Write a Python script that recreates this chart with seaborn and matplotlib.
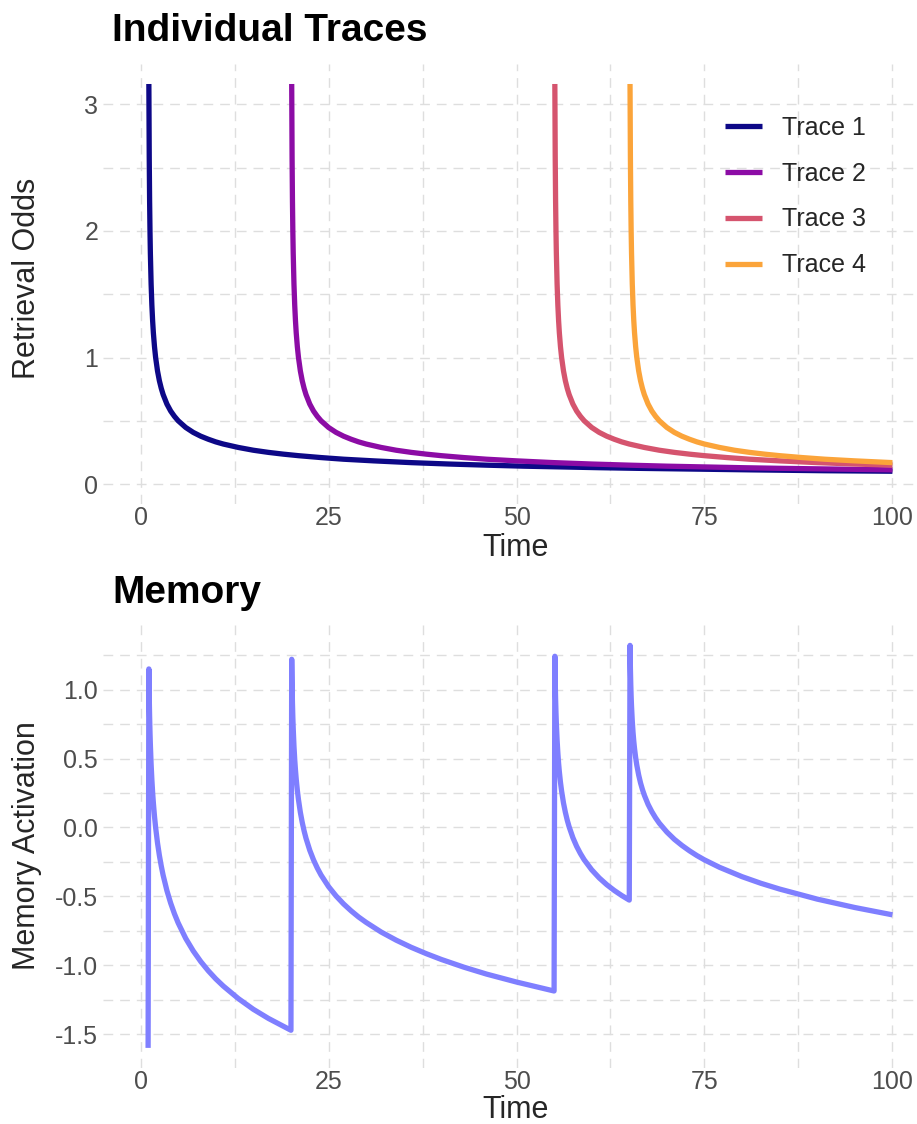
import numpy as np
import pandas as pd
import matplotlib
matplotlib.use("Agg")
import matplotlib.pyplot as plt
from matplotlib.ticker import MultipleLocator, FixedLocator
import seaborn as sns

# ---------------- data ----------------
trace_names = ["Trace 1", "Trace 2", "Trace 3", "Trace 4"]

trace1_time = [1.1, 1.15, 1.2, 1.25, 1.3, 1.4, 1.5, 1.6, 1.7, 1.85, 2, 2.25, 2.5, 2.75,
               3, 3.5, 4, 4.5, 5, 6, 7, 8, 9, 10, 11, 13, 15, 17, 19, 21, 24, 27, 31,
               36, 41, 46, 51, 56, 61, 66, 71, 81, 91, 100]
trace1_odds = [3.162, 2.582, 2.236, 2.000, 1.826, 1.581, 1.414, 1.291, 1.195, 1.085,
               1.000, 0.894, 0.816, 0.756, 0.707, 0.632, 0.577, 0.535, 0.500, 0.447,
               0.408, 0.378, 0.354, 0.333, 0.316, 0.289, 0.267, 0.250, 0.236, 0.224,
               0.209, 0.196, 0.183, 0.169, 0.158, 0.149, 0.141, 0.135, 0.129, 0.124,
               0.120, 0.112, 0.105, 0.101]

trace2_time = [20.1, 20.15, 20.2, 20.25, 20.3, 20.4, 20.5, 20.6, 20.7, 20.85, 21, 21.25,
               21.5, 21.75, 22, 22.5, 23, 23.5, 24, 25, 26, 27, 28, 29, 30, 32, 34, 36,
               38, 40, 43, 46, 50, 55, 60, 65, 70, 75, 80, 85, 90, 100]
trace2_odds = [3.162, 2.582, 2.236, 2.000, 1.826, 1.581, 1.414, 1.291, 1.195, 1.085,
               1.000, 0.894, 0.816, 0.756, 0.707, 0.632, 0.577, 0.535, 0.500, 0.447,
               0.408, 0.378, 0.354, 0.333, 0.316, 0.289, 0.267, 0.250, 0.236, 0.224,
               0.209, 0.196, 0.183, 0.169, 0.158, 0.149, 0.141, 0.135, 0.129, 0.124,
               0.120, 0.112]

trace3_time = [55.1, 55.15, 55.2, 55.25, 55.3, 55.4, 55.5, 55.6, 55.7, 55.85, 56, 56.25,
               56.5, 56.75, 57, 57.5, 58, 58.5, 59, 60, 61, 62, 63, 64, 65, 67, 69, 71,
               73, 75, 78, 81, 85, 90, 95, 100]
trace3_odds = [3.162, 2.582, 2.236, 2.000, 1.826, 1.581, 1.414, 1.291, 1.195, 1.085,
               1.000, 0.894, 0.816, 0.756, 0.707, 0.632, 0.577, 0.535, 0.500, 0.447,
               0.408, 0.378, 0.354, 0.333, 0.316, 0.289, 0.267, 0.250, 0.236, 0.224,
               0.209, 0.196, 0.183, 0.169, 0.158, 0.149]

trace4_time = [65.1, 65.15, 65.2, 65.25, 65.3, 65.4, 65.5, 65.6, 65.7, 65.85, 66, 66.25,
               66.5, 66.75, 67, 67.5, 68, 68.5, 69, 70, 71, 72, 73, 74, 75, 77, 79, 81,
               83, 85, 88, 91, 95, 100]
trace4_odds = [3.162, 2.582, 2.236, 2.000, 1.826, 1.581, 1.414, 1.291, 1.195, 1.085,
               1.000, 0.894, 0.816, 0.756, 0.707, 0.632, 0.577, 0.535, 0.500, 0.447,
               0.408, 0.378, 0.354, 0.333, 0.316, 0.289, 0.267, 0.250, 0.236, 0.224,
               0.209, 0.196, 0.183, 0.169]

memory_time = [1, 1.1, 1.15, 1.2, 1.25, 1.3, 1.4, 1.5, 1.6, 1.7, 1.85, 2, 2.25, 2.5, 2.75,
               3, 3.5, 4, 4.5, 5, 6, 7, 8, 9, 10, 11, 13, 15, 17, 20,
               20.1, 20.15, 20.2, 20.25, 20.3, 20.4, 20.5, 20.6, 20.7, 20.85, 21, 21.25,
               21.5, 21.75, 22, 22.5, 23, 23.5, 24, 25, 26, 27, 28, 29, 30, 32, 34, 36,
               38, 40, 43, 46, 50, 55,
               55.1, 55.15, 55.2, 55.25, 55.3, 55.4, 55.5, 55.6, 55.7, 55.85, 56, 56.25,
               56.5, 56.75, 57, 57.5, 58, 58.5, 59, 60, 61, 62, 63, 64, 65,
               65.1, 65.15, 65.2, 65.25, 65.3, 65.4, 65.5, 65.6, 65.7, 65.85, 66, 66.25,
               66.5, 66.75, 67, 67.5, 68, 68.5, 69, 70, 71, 72, 73, 74, 75, 77, 80, 82.5,
               85, 90, 95, 100]
memory_activation = [-1.60, 1.151, 0.949, 0.805, 0.693, 0.602, 0.458, 0.347, 0.255, 0.178,
                     0.081, 0.000, -0.112, -0.203, -0.280, -0.347, -0.458, -0.549, -0.626,
                     -0.693, -0.805, -0.896, -0.973, -1.040, -1.099, -1.151, -1.242,
                     -1.320, -1.386, -1.472,
                     1.221, 1.033, 0.902, 0.801, 0.720, 0.592, 0.495, 0.417, 0.351, 0.269,
                     0.202, 0.110, 0.037, -0.025, -0.078, -0.165, -0.235, -0.294, -0.345,
                     -0.429, -0.497, -0.555, -0.605, -0.650, -0.689, -0.759, -0.818,
                     -0.870, -0.916, -0.958, -1.014, -1.064, -1.122, -1.187,
                     1.243, 1.060, 0.932, 0.835, 0.756, 0.634, 0.541, 0.466, 0.404, 0.327,
                     0.264, 0.178, 0.110, 0.053, 0.005, -0.074, -0.137, -0.189, -0.234,
                     -0.307, -0.366, -0.415, -0.457, -0.494, -0.527,
                     1.322, 1.154, 1.038, 0.950, 0.880, 0.772, 0.691, 0.626, 0.573, 0.507,
                     0.453, 0.381, 0.323, 0.276, 0.235, 0.168, 0.115, 0.070, 0.031,
                     -0.033, -0.086, -0.130, -0.169, -0.204, -0.235, -0.289, -0.357,
                     -0.405, -0.447, -0.520, -0.581, -0.634]

x_ticks = [0, 25, 50, 75, 100]
top_y_ticks = [0, 1, 2, 3]
bottom_y_ticks = [-1.5, -1.0, -0.5, 0.0, 0.5, 1.0]
bottom_y_labels = ["-1.5", "-1.0", "-0.5", "0.0", "0.5", "1.0"]

trace_colors = ["#0D0887", "#8C0CA5", "#D5546E", "#FBA43A"]
memory_color = "#7F7FFF"

# ---------------- build table ----------------
frames = []
for name, t, v in zip(trace_names,
                      [trace1_time, trace2_time, trace3_time, trace4_time],
                      [trace1_odds, trace2_odds, trace3_odds, trace4_odds]):
    frames.append(pd.DataFrame({"Time": t, "Odds": v, "Trace": name}))
traces_df = pd.concat(frames, ignore_index=True)
memory_df = pd.DataFrame({"Time": memory_time, "Activation": memory_activation})

# ---------------- style ----------------
sns.set_theme(style="white")
plt.rcParams["font.family"] = ["Liberation Sans", "DejaVu Sans"]
plt.rcParams["lines.solid_capstyle"] = "butt"
plt.rcParams["lines.solid_joinstyle"] = "round"

W, H = 917, 1124
fig = plt.figure(figsize=(W / 100, H / 100), dpi=100)


def px_axes(left, top, right, bottom):
    return fig.add_axes([left / W, 1 - bottom / H, (right - left) / W, (bottom - top) / H])


ax1 = px_axes(103, 64, 930, 504)
ax2 = px_axes(103, 625, 930, 1068)

LW = 3.8
TICK_COLOR = "#4D4D4D"
GRID_COLOR = "#DEDEDE"
DASH = (0, (7, 5))

sns.lineplot(data=traces_df, x="Time", y="Odds", hue="Trace", hue_order=trace_names,
             palette=trace_colors, estimator=None, sort=False, linewidth=LW, ax=ax1)
sns.lineplot(data=memory_df, x="Time", y="Activation", color=memory_color,
             estimator=None, sort=False, linewidth=LW, ax=ax2)

for ax in (ax1, ax2):
    ax.set_xlim(-5, 105)
    ax.xaxis.set_major_locator(FixedLocator(x_ticks))
    ax.xaxis.set_minor_locator(MultipleLocator(12.5))
    for s in ax.spines.values():
        s.set_visible(False)
    ax.grid(True, which="major", linestyle=DASH, color=GRID_COLOR, linewidth=1.0)
    ax.grid(True, which="minor", linestyle=DASH, color=GRID_COLOR, linewidth=1.0)
    ax.set_axisbelow(True)
    ax.tick_params(which="both", length=0, labelsize=18, labelcolor=TICK_COLOR)
    ax.tick_params(axis="x", pad=1.5)
    ax.tick_params(axis="y", pad=3.5)
    ax.set_xlabel("")
    ax.set_ylabel("")

ax1.set_ylim(-0.158, 3.32)
ax1.yaxis.set_major_locator(FixedLocator(top_y_ticks))
ax1.yaxis.set_minor_locator(MultipleLocator(0.5))

ax2.set_ylim(-1.746, 1.47)
ax2.set_yticks(bottom_y_ticks)
ax2.set_yticklabels(bottom_y_labels)
ax2.yaxis.set_minor_locator(MultipleLocator(0.25))

# legend
handles, labels = ax1.get_legend_handles_labels()
ax1.legend(handles=handles, labels=labels, loc="upper left",
           bbox_to_anchor=(725 / W, 1 - 116 / H), bbox_transform=fig.transFigure,
           frameon=False, fontsize=18, handlelength=1.48, handletextpad=0.8,
           labelspacing=0.87, borderpad=0, borderaxespad=0)
for line in ax1.get_legend().get_lines():
    line.set_linewidth(LW)

# titles and axis titles
fig.text(112 / W, 1 - 41 / H, "Individual Traces", fontsize=28, fontweight="bold",
         ha="left", va="baseline", color="black")
fig.text(112 / W, 1 - 603 / H, "Memory", fontsize=28, fontweight="bold",
         ha="left", va="baseline", color="black")
fig.text(516 / W, 1 - 548 / H, "Time", fontsize=22, ha="center", va="center")
fig.text(516 / W, 1 - 1110 / H, "Time", fontsize=22, ha="center", va="center")
fig.text(27 / W, 1 - 278 / H, "Retrieval Odds", fontsize=22, rotation=90,
         ha="center", va="center")
fig.text(27 / W, 1 - 846 / H, "Memory Activation", fontsize=22, rotation=90,
         ha="center", va="center")

fig.savefig("out.png", dpi=100, facecolor="white")
